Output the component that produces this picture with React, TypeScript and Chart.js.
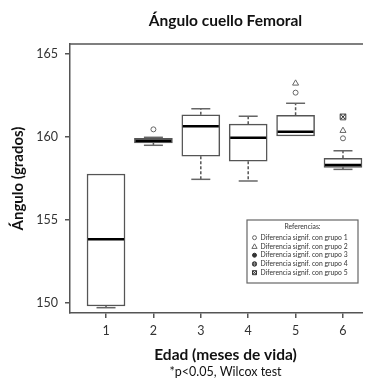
import React, { useEffect, useRef } from 'react';
import { Chart, registerables } from 'chart.js';

Chart.register(...registerables);

// ---- data ----
const categories = [1, 2, 3, 4, 5, 6];
const tickLabels = ['1', '2', '3', '4', '5', '6'];
const yTicks = [150, 155, 160, 165];
const whiskerLow = [149.72, 159.5, 157.45, 157.35, 160.06, 158.05];
const q1 = [149.82, 159.64, 158.84, 158.54, 160.06, 158.17];
const median = [153.84, 159.78, 160.64, 159.96, 160.32, 158.31];
const q3 = [157.77, 159.92, 161.34, 160.77, 161.31, 158.72];
const whiskerHigh = [157.77, 159.98, 161.7, 161.25, 162.03, 159.17];
// significance markers (group where drawn, value)
const sig1Groups = [2, 5, 6];
const sig1Values = [160.46, 162.67, 159.92];
const sig2Groups = [5, 6];
const sig2Values = [163.23, 160.38];
const sig5Groups = [6];
const sig5Values = [161.22];

const titleText = 'Ángulo cuello Femoral';
const xTitle = 'Edad (meses de vida)';
const yTitle = 'Ángulo (grados)';
const footnote = '*p<0.05, Wilcox test';
const legendTitle = 'Referencias:';
const legendItems = [
  'Diferencia signif. con grupo 1',
  'Diferencia signif. con grupo 2',
  'Diferencia signif. con grupo 3',
  'Diferencia signif. con grupo 4',
  'Diferencia signif. con grupo 5',
];

const FONT = 'Lato, "Open Sans", sans-serif';
const LINE = '#555';

function drawMarker(ctx: CanvasRenderingContext2D, kind: number, x: number, y: number, s: number) {
  ctx.save();
  ctx.lineWidth = 1;
  ctx.strokeStyle = '#666';
  ctx.fillStyle = '#fff';
  ctx.beginPath();
  if (kind === 0) {
    ctx.arc(x, y, s, 0, Math.PI * 2);
    ctx.fill();
    ctx.stroke();
  } else if (kind === 1) {
    const r = s * 1.3;
    ctx.moveTo(x, y - r);
    ctx.lineTo(x + r, y + r * 0.75);
    ctx.lineTo(x - r, y + r * 0.75);
    ctx.closePath();
    ctx.fill();
    ctx.stroke();
  } else if (kind === 2) {
    ctx.fillStyle = '#333';
    ctx.strokeStyle = '#333';
    ctx.arc(x, y, s, 0, Math.PI * 2);
    ctx.fill();
    ctx.stroke();
  } else if (kind === 3) {
    ctx.fillStyle = '#333';
    ctx.strokeStyle = '#333';
    ctx.arc(x, y, s * 1.1, 0, Math.PI * 2);
    ctx.fill();
    ctx.stroke();
    ctx.beginPath();
    ctx.strokeStyle = '#888';
    ctx.moveTo(x - s, y);
    ctx.lineTo(x + s, y);
    ctx.moveTo(x, y - s);
    ctx.lineTo(x, y + s);
    ctx.stroke();
  } else {
    ctx.strokeStyle = '#333';
    ctx.rect(x - s, y - s, s * 2, s * 2);
    ctx.moveTo(x - s, y - s);
    ctx.lineTo(x + s, y + s);
    ctx.moveTo(x + s, y - s);
    ctx.lineTo(x - s, y + s);
    ctx.stroke();
  }
  ctx.restore();
}

function makeSquareX(): HTMLCanvasElement {
  const c = document.createElement('canvas');
  c.width = 8;
  c.height = 8;
  const g = c.getContext('2d')!;
  drawMarker(g, 4, 4, 4, 2.8);
  return c;
}

const boxPlugin = {
  id: 'boxExtras',
  afterDatasetsDraw(chart: any) {
    const ctx: CanvasRenderingContext2D = chart.ctx;
    const xs = chart.scales.x;
    const ys = chart.scales.y;
    const half = 19;
    const capHalf = 9.5;
    ctx.save();
    categories.forEach((c, i) => {
      const cx = xs.getPixelForValue(c);
      // whiskers
      ctx.strokeStyle = LINE;
      ctx.lineWidth = 1.5;
      ctx.setLineDash([3, 2]);
      if (whiskerHigh[i] > q3[i]) {
        ctx.beginPath();
        ctx.moveTo(cx, ys.getPixelForValue(q3[i]));
        ctx.lineTo(cx, ys.getPixelForValue(whiskerHigh[i]));
        ctx.stroke();
      }
      if (whiskerLow[i] < q1[i]) {
        ctx.beginPath();
        ctx.moveTo(cx, ys.getPixelForValue(q1[i]));
        ctx.lineTo(cx, ys.getPixelForValue(whiskerLow[i]));
        ctx.stroke();
      }
      ctx.setLineDash([]);
      ctx.strokeStyle = '#666';
      ctx.lineWidth = 1.5;
      [whiskerHigh[i], whiskerLow[i]].forEach((v, k) => {
        if ((k === 0 && v > q3[i]) || (k === 1 && v < q1[i])) {
          const py = ys.getPixelForValue(v);
          ctx.beginPath();
          ctx.moveTo(cx - capHalf, py);
          ctx.lineTo(cx + capHalf, py);
          ctx.stroke();
        }
      });
      // median
      const my = ys.getPixelForValue(median[i]);
      ctx.strokeStyle = '#000';
      ctx.lineWidth = 2.5;
      ctx.beginPath();
      ctx.moveTo(cx - half + 1, my);
      ctx.lineTo(cx + half - 1, my);
      ctx.stroke();
    });
    ctx.restore();
  },
  afterDraw(chart: any) {
    const ctx: CanvasRenderingContext2D = chart.ctx;
    const a = chart.chartArea;
    const cx = (a.left + a.right) / 2;
    ctx.save();
    // top frame line
    ctx.strokeStyle = LINE;
    ctx.lineWidth = 1.5;
    ctx.beginPath();
    ctx.moveTo(a.left - 0.75, a.top);
    ctx.lineTo(a.right, a.top);
    ctx.stroke();

    ctx.fillStyle = '#111';
    ctx.textAlign = 'center';
    ctx.textBaseline = 'middle';
    ctx.font = `bold 15.5px ${FONT}`;
    ctx.fillText(titleText, cx + 1, 12.5);
    ctx.fillText(xTitle, cx + 1, 347);
    ctx.font = `12.5px ${FONT}`;
    ctx.fillText(footnote, cx + 1, 364);
    ctx.save();
    ctx.translate(10.5, (a.top + a.bottom) / 2);
    ctx.rotate(-Math.PI / 2);
    ctx.font = `bold 15px ${FONT}`;
    ctx.fillText(yTitle, 0, 0);
    ctx.restore();

    // legend box
    const lx = a.left + 177;
    const ly = a.top + 176;
    const lw = 111;
    const lh = 63;
    ctx.fillStyle = '#fff';
    ctx.fillRect(lx, ly, lw, lh);
    ctx.strokeStyle = '#666';
    ctx.lineWidth = 1.2;
    ctx.strokeRect(lx, ly, lw, lh);
    ctx.fillStyle = '#333';
    ctx.font = `6.8px ${FONT}`;
    ctx.textAlign = 'center';
    ctx.fillText(legendTitle, lx + lw / 2, ly + 7);
    ctx.textAlign = 'left';
    legendItems.forEach((t, i) => {
      const yy = ly + 17.7 + i * 8.75;
      drawMarker(ctx, i, lx + 7.5, yy, 2);
      ctx.fillStyle = '#333';
      ctx.fillText(t, lx + 13.5, yy);
    });
    ctx.restore();
  },
};

export default function App() {
  const ref = useRef<HTMLCanvasElement | null>(null);
  useEffect(() => {
    if (!ref.current) return;
    const squareX = makeSquareX();
    const tickFont = { family: FONT, size: 12.5 };
    const chart = new Chart(ref.current, {
      type: 'bar',
      data: {
        datasets: [
          {
            type: 'bar',
            data: categories.map((c, i) => ({ x: c, y: [q1[i], q3[i]] })) as any,
            backgroundColor: '#fff',
            borderColor: LINE,
            borderWidth: 1.5,
            borderSkipped: false,
            barThickness: 38,
            grouped: false,
          } as any,
          {
            type: 'scatter',
            data: sig1Groups.map((g, i) => ({ x: g, y: sig1Values[i] })),
            pointStyle: 'circle',
            pointRadius: 2.5,
            borderColor: '#666',
            backgroundColor: '#fff',
            borderWidth: 1,
          } as any,
          {
            type: 'scatter',
            data: sig2Groups.map((g, i) => ({ x: g, y: sig2Values[i] })),
            pointStyle: 'triangle',
            pointRadius: 3.5,
            borderColor: '#666',
            backgroundColor: '#fff',
            borderWidth: 1,
          } as any,
          {
            type: 'scatter',
            data: sig5Groups.map((g, i) => ({ x: g, y: sig5Values[i] })),
            pointStyle: squareX,
            pointRadius: 3,
          } as any,
        ],
      },
      options: {
        responsive: false,
        animation: false,
        devicePixelRatio: 1,
        layout: { padding: { top: 36, left: 0, right: 0, bottom: 0 }, autoPadding: false } as any,
        plugins: { legend: { display: false }, tooltip: { enabled: false }, title: { display: false } },
        scales: {
          x: {
            type: 'linear',
            offset: false,
            min: 0.24,
            max: 6.76,
            afterBuildTicks: (s: any) => {
              s.ticks = categories.map((v) => ({ value: v }));
            },
            afterFit: (s: any) => {
              s.height = 65;
            },
            ticks: {
              callback: (v: any) => tickLabels[categories.indexOf(Number(v))] ?? '',
              font: tickFont,
              color: '#333',
              padding: 5,
              autoSkip: false,
              maxRotation: 0,
            },
            grid: { offset: false, drawOnChartArea: false, tickLength: 5, color: LINE, lineWidth: 1.5 },
            border: { display: true, color: LINE, width: 1.5 },
          },
          y: {
            type: 'linear',
            min: 149.4,
            max: 165.6,
            afterBuildTicks: (s: any) => {
              s.ticks = yTicks.map((v) => ({ value: v }));
            },
            afterFit: (s: any) => {
              s.width = 62;
            },
            ticks: { font: tickFont, color: '#333', padding: 7 },
            grid: { drawOnChartArea: false, tickLength: 5, color: LINE, lineWidth: 1.5 },
            border: { display: true, color: LINE, width: 1.5 },
          },
        },
      } as any,
      plugins: [boxPlugin],
    });
    return () => chart.destroy();
  }, []);
  return (
    <div style={{ width: 363, height: 370, overflow: 'hidden' }}>
      <canvas ref={ref} width={371} height={370} style={{ display: 'block', width: 371, height: 370 }} />
    </div>
  );
}
